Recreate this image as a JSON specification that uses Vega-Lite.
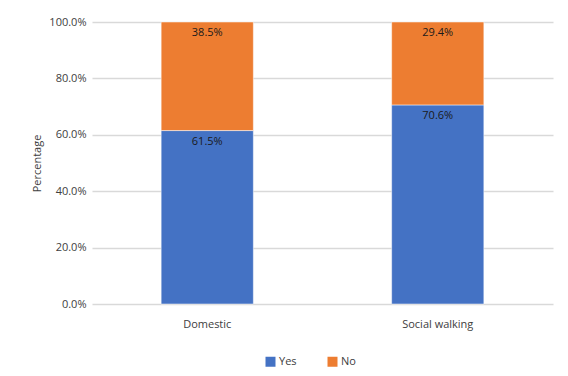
{
  "$schema": "https://vega.github.io/schema/vega-lite/v6.json",
  "width": 461,
  "height": 282,
  "autosize": {"type": "none"},
  "padding": {"left": 92, "top": 22, "right": 15, "bottom": 72},
  "background": "white",
  "config": {
    "view": {"stroke": null},
    "font": "Open Sans",
    "axis": {"labelFont": "Open Sans", "titleFont": "Open Sans", "labelColor": "#404040", "titleColor": "#404040"},
    "legend": {"labelFont": "Open Sans", "labelColor": "#404040"}
  },
  "data": {
    "values": [
      {"category": "Domestic", "response": "Yes", "value": 0.615},
      {"category": "Domestic", "response": "No", "value": 0.385},
      {"category": "Social walking", "response": "Yes", "value": 0.706},
      {"category": "Social walking", "response": "No", "value": 0.294}
    ]
  },
  "encoding": {
    "x": {
      "field": "category", "type": "nominal",
      "scale": {"paddingInner": 0.6, "paddingOuter": 0.3},
      "axis": {"title": null, "labelAngle": 0, "ticks": false, "domain": false, "labelFontSize": 11, "labelPadding": 14}
    },
    "y": {
      "field": "value", "type": "quantitative", "stack": "zero",
      "scale": {"domain": [0, 1], "nice": false},
      "axis": {"title": "Percentage", "format": ".1%", "values": [0, 0.2, 0.4, 0.6, 0.8, 1.0], "labelOverlap": false, "labelBound": false, "ticks": false, "domain": false, "gridColor": "#d9d9d9", "gridWidth": 1.3, "labelFontSize": 11, "labelPadding": 6, "titleFontSize": 11, "titleFontWeight": "normal", "titlePadding": 6}
    },
    "order": {"field": "response", "sort": "descending"}
  },
  "layer": [
    {
      "mark": {"type": "bar", "stroke": "white", "strokeWidth": 0.5},
      "encoding": {
        "color": {
          "field": "response", "type": "nominal",
          "scale": {"domain": ["Yes", "No"], "range": ["#4472C4", "#ED7D31"]},
          "legend": {"title": null, "orient": "none", "direction": "horizontal", "legendX": 173, "legendY": 334, "symbolType": "square", "symbolSize": 100, "symbolStrokeWidth": 0, "labelFontSize": 11, "columnPadding": 30, "labelOffset": 3}
        }
      }
    },
    {
      "mark": {"type": "text", "baseline": "top", "dy": 5, "fontSize": 11, "color": "#1a1a1a"},
      "encoding": {
        "text": {"field": "value", "type": "quantitative", "format": ".1%"}
      }
    }
  ]
}
